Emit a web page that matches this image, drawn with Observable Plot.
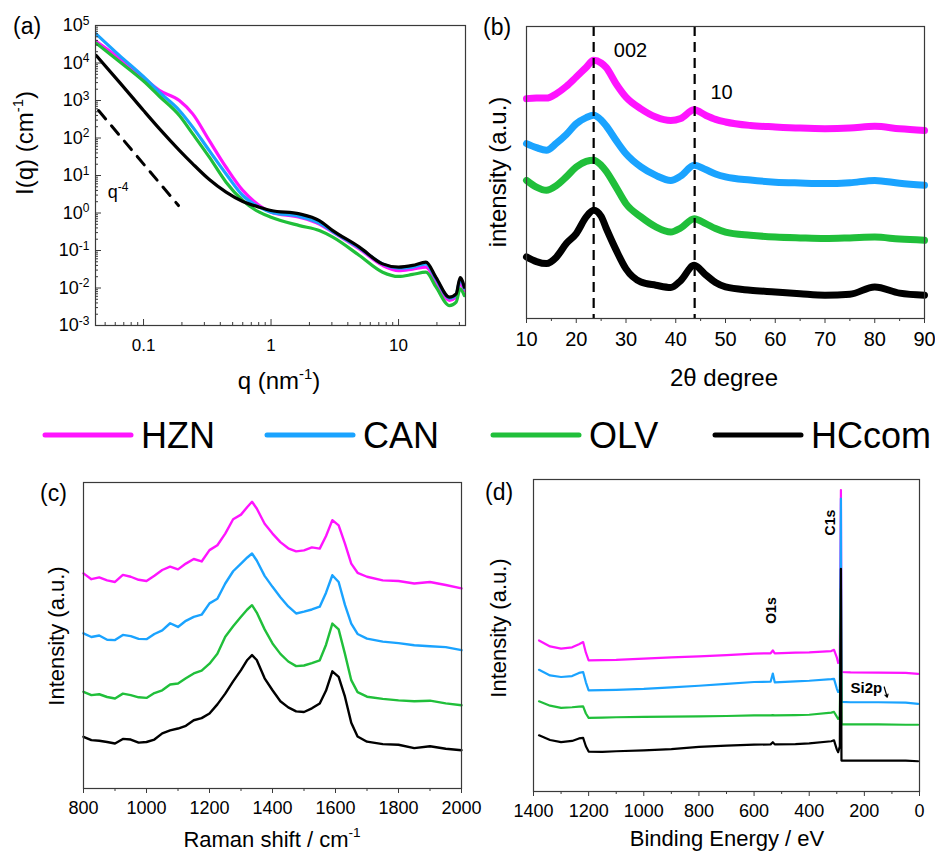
<!DOCTYPE html>
<html><head><meta charset="utf-8">
<script src="https://cdn.jsdelivr.net/npm/d3@7"></script>
<script src="https://cdn.jsdelivr.net/npm/@observablehq/plot@0.6"></script>
<style>
body{margin:0;background:#fff;}
#fig{position:relative;width:935px;height:853px;background:#fff;font-family:"Liberation Sans",Arial,sans-serif;overflow:hidden;color:#000}
.panel{position:absolute}
.lbl{position:absolute;white-space:nowrap;line-height:1;transform:translate(-50%,-50%)}
.rot{transform:translate(-50%,-50%) rotate(-90deg)}
.plab{position:absolute;white-space:nowrap;line-height:1;font-size:23px}
sup{font-size:0.62em;vertical-align:0.7em;line-height:0}
</style></head><body><div id="fig"></div>
<script>
// ---------- series ----------
const names = ["HZN", "CAN", "OLV", "HCcom"];
const colors = ["#ff14ff", "#1aa3ff", "#20bf3a", "#000000"];

// (a) SAXS, q in nm^-1, I in cm^-1
const saxsQ = [0.0424, 0.0646, 0.1, 0.133, 0.191, 0.243, 0.328, 0.444, 0.60, 0.81, 1.0, 1.67, 2.39, 3.05, 4.93, 7.5, 10, 12.9, 16.4, 19.7, 25.1, 28.3, 30.4, 32.8];
const saxsHZN = [3.8e4, 1.35e4, 4000, 1860, 1000, 440, 85, 16.6, 4.0, 1.58, 1.05, 0.77, 0.51, 0.31, 0.11, 0.040, 0.029, 0.032, 0.036, 0.0144, 0.0047, 0.0057, 0.013, 0.0085];
const saxsCAN = [6.0e4, 1.6e4, 4300, 1660, 541, 195, 46, 11, 2.93, 1.43, 1.05, 0.81, 0.54, 0.32, 0.117, 0.044, 0.034, 0.036, 0.044, 0.0175, 0.0054, 0.0066, 0.0165, 0.0099];
const saxsOLV = [3.4e4, 1.1e4, 3300, 1300, 398, 129, 30.8, 6.64, 2.15, 1.05, 0.77, 0.46, 0.34, 0.227, 0.0736, 0.0264, 0.0203, 0.023, 0.0264, 0.0105, 0.0034, 0.0042, 0.0095, 0.0063];
const saxsHC = [1.6e4, 3100, 541, 178, 47, 20.5, 7.8, 3.6, 2.03, 1.43, 1.17, 0.95, 0.63, 0.34, 0.123, 0.044, 0.036, 0.040, 0.049, 0.019, 0.0057, 0.007, 0.019, 0.0105];
const slopeQ = [0.0444, 0.188];
const slopeI = [541, 1.58];
const aXMajor = [0.1, 1, 10];
const aYMajor = [1e-3, 1e-2, 1e-1, 1e0, 1e1, 1e2, 1e3, 1e4, 1e5];

// (b) XRD
const xrdX = [10, 12, 14, 16, 18, 20, 22, 23.5, 25, 26, 28, 30, 33, 36, 39, 41, 43.7, 46, 48, 50, 55, 60, 65, 70, 75, 80, 85, 90];
const xrdHZN = [75.3, 75.5, 75.5, 77, 79.5, 82.7, 86, 88.4, 87.5, 86, 80.4, 75.8, 71.8, 69, 67.8, 68.5, 71.5, 69.6, 68.2, 67.3, 66.1, 65.6, 65.2, 65, 65.2, 65.8, 65, 64.4];
const xrdCAN = [59.9, 58.5, 57.6, 60, 63, 66.7, 68.8, 69.6, 68, 66, 61, 56.4, 51.9, 49, 47.3, 48.8, 52.5, 51, 49.5, 48.5, 47.4, 46.7, 46.4, 46.2, 46.5, 47.3, 46.3, 45.6];
const xrdOLV = [47.3, 45, 43.9, 45.5, 48.5, 51.9, 53.8, 54.2, 52.5, 50.5, 45, 39.3, 34.8, 31.4, 29.6, 31, 34.2, 32.5, 30.8, 29.6, 28.5, 27.9, 27.6, 27.4, 27.6, 27.9, 27.2, 26.8];
const xrdHC = [21.1, 19.5, 18.8, 21, 25.7, 29.1, 34.8, 37.1, 35, 31, 23.5, 17, 12.5, 11.4, 10.6, 13, 18.2, 15, 12.3, 10.8, 9.7, 9.1, 8.5, 8, 8.3, 10.8, 8.7, 8];
const xrdPeaks = [23.5, 43.8];
const xrdPeakLabels = ["002", "10"];
const xrdPeakLabelX = [30.9, 49.2];
const xrdPeakLabelY = [91.8, 77.4];

// (c) Raman
const ramanX = [800, 825, 850, 875, 900, 925, 950, 975, 1000, 1025, 1050, 1075, 1100, 1125, 1150, 1175, 1200, 1225, 1250, 1275, 1300, 1320, 1335, 1350, 1375, 1400, 1425, 1450, 1475, 1500, 1525, 1550, 1570, 1590, 1610, 1630, 1650, 1670, 1700, 1750, 1800, 1850, 1900, 1950, 2000];
const ramanHZN = [70.3, 68.4, 69, 68, 67.5, 69.8, 69.2, 68.2, 67.8, 69.5, 71.4, 72.5, 71.6, 73.5, 75, 74.2, 77.9, 79.5, 83.3, 88, 89.5, 92, 93.7, 91.5, 86.5, 83.3, 80.5, 78.5, 77.5, 77.8, 78.8, 78.4, 82.5, 87.7, 86, 80, 73.5, 70.5, 69.2, 68, 67.8, 67, 67.5, 66.5, 65.4];
const ramanCAN = [50.7, 49.5, 50, 48.6, 48.5, 50.2, 49.8, 48.9, 48.8, 50.5, 51.7, 54, 52.8, 54.8, 56.1, 56.8, 60.5, 62, 67, 71, 73.5, 75.5, 76.8, 74.5, 69.5, 65.9, 62.5, 59.5, 57.2, 57.8, 58.5, 59.4, 64, 69.7, 67.5, 60, 53.9, 50.5, 49, 48, 47.5, 46.8, 46.5, 46.2, 45.2];
const ramanOLV = [31.6, 30.5, 30.8, 29.9, 29.4, 31, 30.5, 29.8, 29.6, 31.2, 32.1, 34, 34.3, 36, 37.6, 38.5, 40.8, 44, 49.6, 53, 56.1, 58.5, 59.9, 57.5, 52, 47.4, 44, 41.5, 40, 40.2, 41, 41.9, 47, 53.9, 52, 44, 35.4, 31.5, 30, 29.3, 28.8, 28.5, 28.7, 27.8, 27.2];
const ramanHC = [16.9, 15.8, 15.6, 15.2, 14.7, 16.2, 16, 15, 15.2, 16, 18, 19, 19.6, 20.5, 22.3, 23, 24.5, 27.5, 31, 35, 38.7, 42, 43.6, 42, 36, 32.1, 28.5, 26.5, 25.2, 25, 26.2, 27.8, 32, 38.3, 36.5, 30, 21.5, 17, 15.3, 14.5, 14.3, 13.2, 13.8, 13, 12.5];

// (d) XPS survey
const xpsBE = [1380, 1340, 1300, 1260, 1235, 1220, 1210, 1200, 1150, 1100, 1000, 900, 800, 700, 600, 540, 532, 525, 450, 400, 320, 310, 300, 295, 289, 285, 283, 250, 150, 50, 5];
const xpsHZN = [48.4, 46.5, 45.8, 46.2, 47.2, 47.9, 44.5, 42.0, 42.1, 42.2, 42.6, 43.0, 43.3, 43.7, 44.2, 44.3, 45.2, 44.3, 44.5, 44.6, 45.0, 45.4, 43.0, 41.2, 42.0, 96.6, 38.3, 38.2, 38.1, 38.0, 37.7];
const xpsCAN = [39.0, 37.2, 36.7, 37.0, 38.0, 38.3, 35.0, 32.4, 32.5, 32.6, 32.9, 33.4, 33.9, 34.5, 35.1, 35.2, 37.8, 35.0, 35.3, 35.5, 36.0, 36.1, 33.0, 31.9, 32.5, 93.9, 28.7, 28.6, 28.6, 28.5, 28.1];
const xpsOLV = [28.9, 27.5, 26.8, 27.0, 27.2, 27.3, 25.0, 23.6, 23.7, 23.8, 23.9, 24.0, 24.1, 24.2, 24.4, 24.4, 24.5, 24.4, 24.5, 24.6, 25.3, 25.5, 24.0, 23.3, 24.0, 65.0, 21.5, 21.5, 21.5, 21.4, 21.4];
const xpsHC = [18.0, 16.5, 15.8, 16.2, 17.0, 17.2, 14.5, 12.8, 12.7, 12.9, 13.2, 13.6, 14.3, 14.7, 15.0, 15.1, 15.8, 15.1, 15.2, 15.4, 16.1, 16.4, 13.5, 12.6, 14.5, 71.4, 9.9, 9.9, 9.9, 9.9, 9.7];
const xpsLabels = ["C1s", "O1s"];
const xpsLabelX = [323, 537];
const xpsLabelY = [86.2, 58];

// ---------- helpers ----------
function long(xs, seriesList) {
  return seriesList.flatMap((vals, i) => xs.map((x, j) => ({x, y: vals[j], s: names[i]})));
}
const FONT = "Liberation Sans, Arial, sans-serif";
const baseStyle = {fontFamily: FONT, color: "#000", background: "transparent", overflow: "visible"};
const AX = "#3a3a3a";
const plain = d => String(d);
const fig = document.getElementById("fig");
function place(svg, left, top) {
  const d = document.createElement("div");
  d.className = "panel"; d.style.left = left + "px"; d.style.top = top + "px";
  d.appendChild(svg); fig.appendChild(d);
}
function label(html, cx, cy, size, rot) {
  const d = document.createElement("div");
  d.className = "lbl" + (rot ? " rot" : "");
  d.style.left = cx + "px"; d.style.top = cy + "px"; d.style.fontSize = size + "px";
  d.innerHTML = html; fig.appendChild(d);
}
function plab(txt, x, y) {
  const d = document.createElement("div");
  d.className = "plab"; d.style.left = x + "px"; d.style.top = y + "px";
  d.textContent = txt; fig.appendChild(d);
}
const color = {domain: names, range: colors};

// ---------- (a) ----------
const logTicks = (lo, hi) => d3.scaleLog().domain([lo, hi]).ticks();
const aXMinor = logTicks(0.042, 33.5).filter(v => !aXMajor.some(m => Math.abs(m - v) / m < 1e-9));
const aYMinor = logTicks(1e-3, 1e5).filter(v => !aYMajor.some(m => Math.abs(m - v) / m < 1e-9));
const saxsData = long(saxsQ, [saxsHZN, saxsCAN, saxsOLV, saxsHC]);
const slopeData = slopeQ.map((q, i) => ({x: q, y: slopeI[i]}));
const pa = Plot.plot({
  width: 470, height: 400, marginLeft: 95, marginRight: 5, marginTop: 25, marginBottom: 75,
  style: baseStyle,
  x: {type: "log", domain: [0.042, 33.5], label: null},
  y: {type: "log", domain: [1e-3, 1e5], label: null},
  color,
  marks: [
    Plot.line(saxsData, {x: "x", y: "y", z: "s", stroke: "s", strokeWidth: 3.2, clip: true, curve: "monotone-x"}),
    Plot.line(slopeData, {x: "x", y: "y", stroke: "#000", strokeWidth: 3, strokeDasharray: "11,9"}),
    Plot.axisX({ticks: aXMajor, tickSize: -6, tickFormat: () => "", label: null, stroke: AX}),
    Plot.axisX({ticks: aXMinor, tickSize: -3, tickFormat: () => "", label: null, stroke: AX}),
    Plot.axisX({ticks: aXMajor, tickSize: 0, tickPadding: 13, tickFormat: d => d3.format("~g")(d), label: null, fontSize: 17}),
    Plot.axisY({ticks: aYMajor, tickSize: -6, tickFormat: () => "", label: null, stroke: AX}),
    Plot.axisY({ticks: aYMinor, tickSize: -3, tickFormat: () => "", label: null, stroke: AX}),
    Plot.axisY({ticks: aYMajor, tickSize: 0, tickPadding: 6, tickFormat: d => String(Math.round(Math.log10(d))), label: null, fontSize: 18}),
    Plot.frame({stroke: AX, strokeWidth: 1.2})
  ]
});
d3.select(pa).selectAll('g[aria-label="y-axis tick label"] text').each(function () {
  const e = this.textContent;
  if (!e) return;
  const t = d3.select(this); t.text(null);
  t.append("tspan").text("10");
  t.append("tspan").attr("dy", "-0.55em").attr("font-size", "12px").text(e);
});
{
  const sx = pa.scale("x"), sy = pa.scale("y");
  const t = d3.select(pa).append("text").attr("x", sx.apply(0.0637)).attr("y", sy.apply(3.5))
    .attr("font-size", 18).attr("font-family", FONT).attr("dy", "0.35em");
  t.append("tspan").text("q");
  t.append("tspan").attr("dy", "-0.6em").attr("font-size", 12).text("-4");
}
place(pa, 0, 0);

// ---------- (b) ----------
const xrdData = long(xrdX, [xrdHZN, xrdCAN, xrdOLV, xrdHC]);
const pb = Plot.plot({
  width: 470, height: 400, marginLeft: 61, marginRight: 11, marginTop: 26, marginBottom: 82,
  style: baseStyle,
  x: {domain: [10, 90], label: null},
  y: {domain: [0, 100], label: null, axis: null},
  color,
  marks: [
    Plot.line(xrdData, {x: "x", y: "y", z: "s", stroke: "s", strokeWidth: 7, strokeLinejoin: "round", curve: "monotone-x"}),
    Plot.ruleX(xrdPeaks, {stroke: "#000", strokeWidth: 2.2, strokeDasharray: "10,6"}),
    Plot.text(xrdPeakLabels, {x: (d, i) => xrdPeakLabelX[i], y: (d, i) => xrdPeakLabelY[i], text: d => d, fontSize: 20}),
    Plot.axisX({ticks: d3.range(10, 91, 10), tickSize: 5, tickPadding: 8, fontSize: 20, tickFormat: plain, label: null, stroke: AX}),
    Plot.axisX({ticks: d3.range(15, 90, 10), tickSize: 3, tickFormat: () => "", label: null, stroke: AX}),
    Plot.frame({stroke: AX, strokeWidth: 1.2})
  ]
});
place(pb, 465, 0);

// ---------- (c) ----------
const ramanData = long(ramanX, [ramanHZN, ramanCAN, ramanOLV, ramanHC]);
const pc = Plot.plot({
  width: 470, height: 383, marginLeft: 83, marginRight: 9, marginTop: 12, marginBottom: 65,
  style: baseStyle,
  x: {domain: [800, 2000], label: null},
  y: {domain: [0, 100], label: null, axis: null},
  color,
  marks: [
    Plot.line(ramanData, {x: "x", y: "y", z: "s", stroke: "s", strokeWidth: 2.4}),
    Plot.axisX({ticks: d3.range(800, 2001, 200), tickSize: 5, tickPadding: 8, fontSize: 18, tickFormat: plain, label: null, stroke: AX}),
    Plot.axisX({ticks: d3.range(900, 2000, 200), tickSize: 3, tickFormat: () => "", label: null, stroke: AX}),
    Plot.frame({stroke: AX, strokeWidth: 1.2})
  ]
});
place(pc, 0, 470);

// ---------- (d) ----------
const xpsData = long(xpsBE, [xpsHZN, xpsCAN, xpsOLV, xpsHC]);
const pd = Plot.plot({
  width: 470, height: 383, marginLeft: 68, marginRight: 16, marginTop: 9, marginBottom: 62,
  style: baseStyle,
  x: {domain: [1400, 0], label: null},
  y: {domain: [0, 100], label: null, axis: null},
  color,
  marks: [
    Plot.line(xpsData, {x: "x", y: "y", z: "s", stroke: "s", strokeWidth: 2.2}),
    Plot.text(xpsLabels, {x: (d, i) => xpsLabelX[i], y: (d, i) => xpsLabelY[i], text: d => d, rotate: -90, fontSize: 14, fontWeight: "bold"}),
    Plot.text(["Si2p"], {x: 250, y: 33.2, text: d => d, textAnchor: "start", fontSize: 15, fontWeight: "bold"}),
    Plot.arrow(["Si2p"], {x1: 128, y1: 33.5, x2: 117, y2: 30.2, stroke: "#000", strokeWidth: 1.2, headLength: 4}),
    Plot.axisX({ticks: d3.range(0, 1401, 200), tickSize: 5, tickPadding: 8, fontSize: 18, tickFormat: plain, label: null, stroke: AX}),
    Plot.axisX({ticks: d3.range(100, 1400, 200), tickSize: 3, tickFormat: () => "", label: null, stroke: AX}),
    Plot.frame({stroke: AX, strokeWidth: 1.2})
  ]
});
place(pd, 465, 470);

// ---------- titles ----------
label("q (nm<sup>-1</sup>)", 279, 381, 24);
label("I(q) (cm<sup>-1</sup>)", 25, 143, 24, true);
label("2θ degree", 724, 378, 24);
label("intensity (a.u.)", 498, 172, 24, true);
label("Raman shift / cm<sup>-1</sup>", 272, 840, 22);
label("Intensity (a.u.)", 57, 636, 22, true);
label("Binding Energy / eV", 727, 839, 22);
label("Intensity (a.u.)", 499, 628, 22, true);
plab("(a)", 13, 15);
plab("(b)", 483, 16);
plab("(c)", 40, 482);
plab("(d)", 485, 481);

// ---------- legend ----------
const legX = [45, 267, 493, 715];
const leg = d3.select(fig).append("svg").attr("width", 935).attr("height", 60)
  .style("position", "absolute").style("left", "0px").style("top", "405px");
names.forEach((n, i) => {
  leg.append("line").attr("x1", legX[i]).attr("x2", legX[i] + 86).attr("y1", 30).attr("y2", 30)
    .attr("stroke", colors[i]).attr("stroke-width", 5).attr("stroke-linecap", "round");
  leg.append("text").attr("x", legX[i] + 96).attr("y", 43).attr("font-size", 36)
    .attr("font-family", FONT).text(n);
});
</script>
</body></html>
